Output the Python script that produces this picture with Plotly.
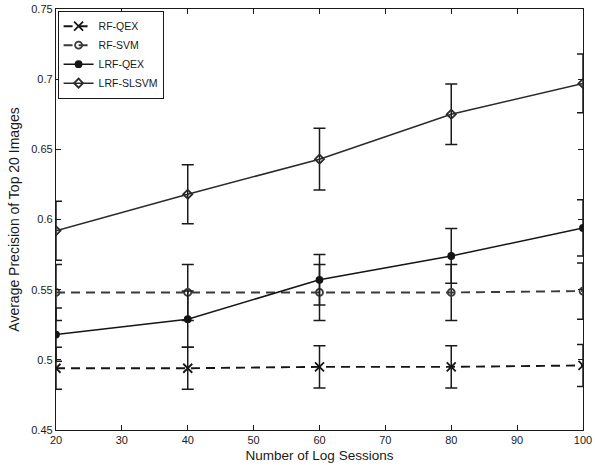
import plotly.graph_objects as go

sessions = [20, 40, 60, 80, 100]
rf_qex = [0.494, 0.494, 0.495, 0.495, 0.496]
rf_qex_err = [0.015, 0.015, 0.015, 0.015, 0.015]
rf_svm = [0.548, 0.548, 0.548, 0.548, 0.549]
rf_svm_err = [0.02, 0.02, 0.02, 0.02, 0.02]
lrf_qex = [0.518, 0.529, 0.557, 0.574, 0.594]
lrf_qex_err = [0.019, 0.02, 0.018, 0.0195, 0.02]
lrf_slsvm = [0.592, 0.618, 0.643, 0.675, 0.697]
lrf_slsvm_err = [0.021, 0.021, 0.022, 0.0215, 0.021]

series = [
    ("RF-QEX", rf_qex, rf_qex_err, "x-thin", "dash", "#151515", 9),
    ("RF-SVM", rf_svm, rf_svm_err, "circle-open", "dash", "#3a3a3a", 7),
    ("LRF-QEX", lrf_qex, lrf_qex_err, "circle", "solid", "#151515", 6),
    ("LRF-SLSVM", lrf_slsvm, lrf_slsvm_err, "diamond-open", "solid", "#2a2a2a", 7),
]

fig = go.Figure()
for name, ys, errs, sym, dash, col, size in series:
    fig.add_trace(go.Scatter(
        x=sessions, y=ys, name=name, mode="lines+markers",
        line=dict(color=col, width=1.9 if dash == "dash" else 1.5,
                  dash="9px,6px" if dash == "dash" else "solid"),
        marker=dict(symbol=sym, size=size, color=col,
                    line=dict(color=col, width=1.8)),
        error_y=dict(type="data", array=errs, visible=True,
                     color="#1a1a1a", thickness=1.5, width=6),
    ))

axis_common = dict(
    showline=True, linecolor="#1a1a1a", linewidth=1.3, mirror="ticks",
    ticks="inside", ticklen=5, tickcolor="#1a1a1a", showgrid=False,
    zeroline=False, automargin=False,
    tickfont=dict(family="Liberation Sans, Arial", size=11, color="#1a1a1a"),
)

fig.update_layout(
    width=595, height=468,
    margin=dict(l=56, r=12, t=9, b=38),
    paper_bgcolor="white", plot_bgcolor="white",
    font=dict(family="Liberation Sans, Arial", size=11, color="#1a1a1a"),
    showlegend=True,
    legend=dict(x=0.003, y=0.996, xanchor="left", yanchor="top",
                bgcolor="white", bordercolor="#1a1a1a", borderwidth=1,
                font=dict(size=10.5), tracegroupgap=0, itemwidth=30),
    xaxis=dict(range=[20, 100], tickvals=[20, 30, 40, 50, 60, 70, 80, 90, 100],
               title=dict(text="Number of Log Sessions", standoff=5,
                          font=dict(size=13.5)), **axis_common),
    yaxis=dict(range=[0.45, 0.75],
               tickvals=[0.45, 0.5, 0.55, 0.6, 0.65, 0.7, 0.75],
               ticktext=["0.45", "0.5", "0.55", "0.6", "0.65", "0.7", "0.75"],
               title=dict(text="Average Precision of Top 20 Images", standoff=8,
                          font=dict(size=14)), **axis_common),
)

fig.write_html("out.html")
